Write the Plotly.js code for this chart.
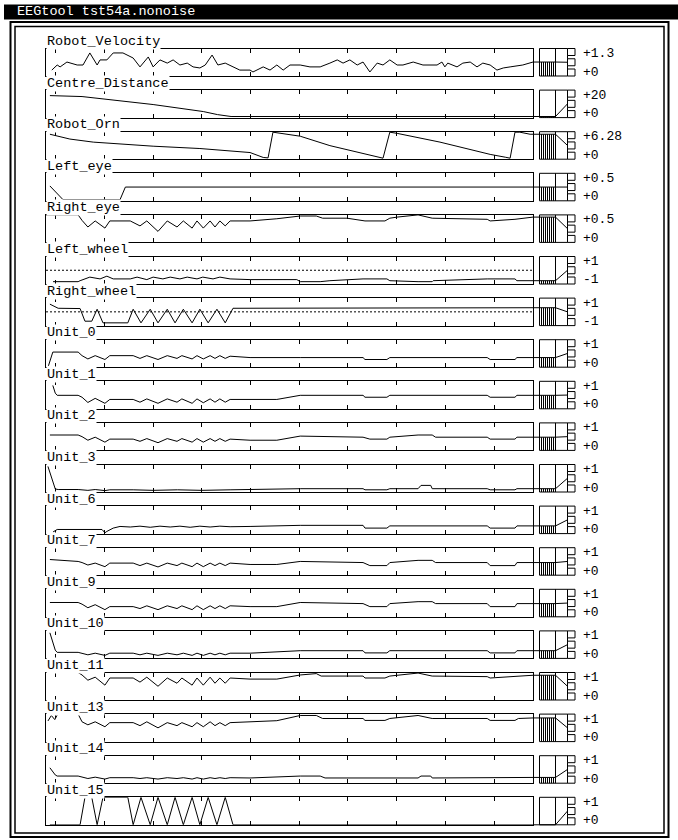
<!DOCTYPE html>
<html><head><meta charset="utf-8">
<script src="https://cdn.plot.ly/plotly-3.0.1.min.js"></script>
<style>html,body{margin:0;padding:0;background:#fff;}#chart{width:678px;height:840px;}</style>
</head><body><div id="chart"></div>
<script>
const windowTitle = 'EEGtool tst54a.nonoise';
const panelNames = ['Robot_Velocity','Centre_Distance','Robot_Orn','Left_eye','Right_eye','Left_wheel','Right_wheel',
  'Unit_0','Unit_1','Unit_2','Unit_3','Unit_6','Unit_7','Unit_9','Unit_10','Unit_11','Unit_13','Unit_14','Unit_15'];
const panelMin = [0,0,0,0,0,-1,-1,0,0,0,0,0,0,0,0,0,0,0,0];
const panelMax = [1.3,20,6.28,0.5,0.5,1,1,1,1,1,1,1,1,1,1,1,1,1,1];
const topLabels = ['+1.3','+20','+6.28','+0.5','+0.5','+1','+1','+1','+1','+1','+1','+1','+1','+1','+1','+1','+1','+1','+1'];
const bottomLabels = ['+0','+0','+0','+0','+0','-1','-1','+0','+0','+0','+0','+0','+0','+0','+0','+0','+0','+0','+0'];
const tickTimes = [0,10,20,30,40,50,60,70,80,90];
const dottedZeroPanels = ['Left_wheel','Right_wheel'];

// Robot_Velocity
const tRV = [-0.8,0.3,0.9,2.3,4.4,5.6,7,8.5,9.1,10.5,11.8,13.8,15.9,17.3,19,20,21.4,22.9,24.1,25.5,27,28.2,29.6,30.7,32.1,33.3,34.8,36.4,37.8,39.9,40.5,42.6,44,45.4,46.7,48.1,50.2,52.2,54.3,56.3,57.8,59,60.4,61.9,63.1,64.5,66,67.2,68.6,70.1,71.3,73.4,75.4,78.3,79.3,79.9,80.5,82.4,83.6,85.1,86.5,87.7,89.2,90.6,91.9,93.3,95.9,98];
const vRV = [0.28,0.52,0.43,0.66,0.52,0.52,1.09,0.52,0.76,0.76,1.09,1.09,0.85,0.43,0.9,0.43,0.76,0.61,0.76,0.52,0.61,0.43,0.38,0.52,0.99,0.52,0.61,0.43,0.28,0.28,0.19,0.43,0.28,0.52,0.28,0.52,0.52,0.43,0.43,0.61,0.76,0.61,0.76,0.52,0.66,0.19,0.61,0.52,0.76,0.52,0.52,0.66,0.52,0.52,0.66,0.43,0.61,0.43,0.61,0.66,0.43,0.61,0.52,0.28,0.38,0.43,0.52,0.66];
// Centre_Distance
const tCD = [-1.2,5.4,20,30.3,33.2,36,98];
const vCD = [16,15.3,9.5,4.4,2.2,0.8,0.8];
// Robot_Orn
const tRO = [-1.2,1.3,2.9,7.7,20,29.6,39.9,42.6,43.6,44.6,50.2,56.3,61.5,66.6,67.2,68.6,70.1,78.9,89.2,92.3,93.3,94.3,95.3,97.4,98];
const vRO = [5.7,5.0,4.6,3.9,2.97,2.44,1.52,0.4,0.3,6.17,5.25,3.1,1.8,0.46,0.23,6.17,5.9,3.9,1.1,0.46,0.23,6.17,6.17,5.7,5.7];
// Left_eye
const tLE = [-1.2,1.5,13.2,14.3,98];
const vLE = [0.27,0.02,0.02,0.25,0.25];
// Right_eye
const tRE = [-2,4.6,5.4,6.6,8.1,10.1,11.1,15.3,17.3,18.7,21,22.9,24.9,26.2,28,29,30.3,31.7,32.7,33.7,34.8,35.8,39.9,45.4,50.2,53.5,54.8,56.3,59.8,63.5,67.6,68.6,70.1,74.4,77.3,88.6,89.2,94.3,98];
const vRE = [0.5,0.5,0.4,0.28,0.39,0.26,0.39,0.39,0.3,0.39,0.2,0.39,0.28,0.39,0.26,0.39,0.26,0.39,0.28,0.39,0.3,0.39,0.39,0.43,0.48,0.48,0.44,0.44,0.44,0.39,0.39,0.44,0.46,0.5,0.44,0.42,0.39,0.42,0.46];
// Left_wheel
const tLW = [-0.55,4.6,5,7,9.1,10.5,11.8,15.3,16.7,18.7,20,22,23.5,25.5,27,29,30.2,32.3,33.7,35.8,39.9,49.5,50.2,54.3,56.3,63.1,68,68.6,74.4,77.3,77.5,88.6,94.3,94.7,98];
const vLW = [-0.83,-0.83,-0.76,-0.5,-0.63,-0.43,-0.63,-0.63,-0.5,-0.68,-0.5,-0.63,-0.5,-0.63,-0.5,-0.63,-0.5,-0.63,-0.5,-0.63,-0.68,-0.68,-0.83,-0.83,-0.76,-0.63,-0.63,-0.76,-0.83,-0.83,-0.76,-0.63,-0.63,-0.76,-0.76];
// Right_wheel (Unit_15 uses the same time base)
const tRW = [-1.2,0.5,5,6,7.4,8.5,9.7,14.8,15.9,17.5,19.4,21,22.9,24.5,26.2,28,29.6,31.3,33.1,34.8,36.4,98];
const vRW = [0.56,0.26,0.24,-0.68,-0.68,0.19,-0.8,-0.8,0.19,-0.8,0.19,-0.8,0.19,-0.8,0.19,-0.8,0.19,-0.8,0.19,-0.8,0.26,0.3];
// Unit_0
const tU0 = [-1.5,-0.6,4.6,5.4,6.6,8.1,10.1,11.1,15.9,17.3,18.7,21,22.9,24.9,25.9,28,29,30.3,31.7,32.7,33.7,34.8,35.8,39.9,50.2,63.1,63.5,68,68.6,88.6,89.2,94.3,94.7,98];
const vU0 = [0.05,0.55,0.55,0.42,0.3,0.42,0.28,0.42,0.42,0.32,0.42,0.28,0.42,0.32,0.42,0.3,0.42,0.3,0.42,0.32,0.42,0.32,0.4,0.35,0.35,0.35,0.28,0.28,0.35,0.35,0.28,0.28,0.35,0.35];
// Unit_1
const tU1 = [-0.6,-0.1,0.3,4.6,5.4,6.6,8.1,10.1,11.1,15.9,17.3,18.7,21,22.9,24.9,25.9,28,29,30.3,31.7,32.7,33.7,34.8,35.8,45.4,50.2,63.1,63.5,68,68.6,88.6,89.2,94.3,94.7,98];
const vU1 = [0.85,0.57,0.49,0.49,0.42,0.23,0.38,0.2,0.34,0.34,0.24,0.36,0.2,0.36,0.24,0.36,0.2,0.36,0.22,0.36,0.24,0.36,0.24,0.34,0.34,0.49,0.49,0.42,0.42,0.49,0.49,0.42,0.42,0.49,0.49];
// Unit_2, Unit_7, Unit_9 share one time base
const tMid = [-1.2,4.6,5.4,6.6,8.1,10.1,11.1,15.9,17.3,18.7,21,22.9,24.9,25.9,28,29,30.3,31.7,32.7,33.7,34.8,35.8,39.9,45.4,50.2,63.1,64.5,68,68.6,74.4,77.3,78,88.6,89.2,94.3,94.7,98];
const vU2 = [0.56,0.56,0.5,0.37,0.48,0.3,0.41,0.41,0.33,0.43,0.28,0.43,0.33,0.43,0.3,0.43,0.3,0.43,0.33,0.43,0.33,0.41,0.37,0.37,0.52,0.48,0.41,0.41,0.48,0.56,0.56,0.48,0.48,0.41,0.41,0.48,0.48];
const vU7 = [0.57,0.5,0.46,0.37,0.44,0.31,0.44,0.44,0.35,0.44,0.3,0.44,0.35,0.44,0.31,0.44,0.31,0.44,0.35,0.44,0.35,0.44,0.39,0.39,0.5,0.46,0.35,0.35,0.46,0.54,0.54,0.46,0.46,0.35,0.35,0.46,0.46];
const vU9 = [0.52,0.52,0.46,0.33,0.44,0.26,0.37,0.37,0.3,0.4,0.26,0.4,0.3,0.4,0.26,0.4,0.26,0.4,0.3,0.4,0.3,0.4,0.37,0.37,0.52,0.48,0.37,0.37,0.48,0.55,0.55,0.48,0.48,0.37,0.37,0.48,0.48];
// Unit_3
const tU3 = [-1.6,-0.1,0.5,4.6,6.6,8.1,10.1,11.1,15.9,20,25,30,35.8,50.2,63.1,63.5,68,68.6,74.4,75,77,77.3,88.6,89.2,94.3,94.7,98];
const vU3 = [0.93,0.11,0.09,0.09,0.06,0.09,0.05,0.08,0.08,0.06,0.08,0.06,0.08,0.12,0.12,0.08,0.08,0.12,0.12,0.24,0.24,0.12,0.12,0.08,0.08,0.12,0.12];
// Unit_6
const tU6 = [-0.55,0.3,9.5,10.1,10.5,11.8,13.2,15.3,17.3,19.4,21.4,23.5,25.5,27.6,29.6,31.7,33.7,35.8,39.9,50.2,63.1,63.5,68,68.6,88.6,89.2,94.3,94.7,98];
const vU6 = [0.06,0.15,0.15,0.03,0.08,0.2,0.26,0.24,0.27,0.23,0.27,0.24,0.27,0.23,0.27,0.24,0.27,0.25,0.26,0.3,0.3,0.2,0.2,0.28,0.28,0.2,0.2,0.28,0.28];
// Unit_10
const tU10 = [-1.2,-0.1,0.3,4.6,6.6,8.1,10.1,11.1,15.9,17.3,18.7,21,22.9,24.9,26.2,28,29,30.3,31.7,32.7,33.7,34.8,35.8,39.9,50.2,63.1,63.5,68,68.6,88.6,89.2,94.3,94.7,98];
const vU10 = [0.93,0.3,0.22,0.22,0.13,0.19,0.11,0.19,0.19,0.13,0.19,0.11,0.19,0.13,0.19,0.11,0.19,0.11,0.19,0.13,0.19,0.13,0.19,0.19,0.28,0.28,0.2,0.2,0.28,0.28,0.2,0.2,0.28,0.28];
// Unit_11
const tU11 = [-2,4.6,5.4,6.6,8.1,10.1,11.1,15.9,17.3,18.7,21,22.9,24.9,25.9,28,29,30.3,31.7,32.7,33.7,34.8,35.8,39.9,45.4,50.2,53.5,54.5,56.3,63.1,63.5,67.6,68.6,70.1,74.4,77.3,88.6,89.2,94.3,98];
const vU11 = [1,1,0.91,0.72,0.83,0.54,0.8,0.8,0.65,0.83,0.5,0.8,0.61,0.8,0.54,0.8,0.54,0.83,0.61,0.8,0.61,0.8,0.76,0.76,0.91,0.96,0.87,0.87,0.87,0.8,0.8,0.87,0.9,0.98,0.87,0.85,0.8,0.85,0.9];
// Unit_13
const tU13 = [-1.6,-0.9,-0.2,0.4,4.6,5.4,6.6,8.1,10.1,11.1,15.9,17.3,18.7,21,22.9,24.9,25.9,28,29,30.3,31.7,32.7,33.7,34.8,35.8,39.9,45.4,50.2,53.5,54.8,63.1,63.5,67.6,68.6,74.4,77.3,88.6,89.2,94.3,95,98];
const vU13 = [0.75,0.95,0.8,1,1,0.72,0.61,0.72,0.54,0.69,0.69,0.58,0.72,0.5,0.69,0.58,0.69,0.54,0.69,0.54,0.72,0.58,0.69,0.58,0.69,0.72,0.76,0.95,0.95,0.84,0.84,0.77,0.77,0.84,0.95,0.84,0.84,0.77,0.77,0.84,0.86];
// Unit_14
const tU14 = [-1.2,-0.1,0.3,4.6,6.6,8.1,10.1,11.1,15.9,17.3,18.7,21,22.9,24.9,26.2,28,29,30.3,31.7,32.7,33.7,34.8,35.8,39.9,50.2,54.3,55.3,74.4,75,77,77.3,98];
const vU14 = [0.56,0.3,0.26,0.26,0.17,0.22,0.15,0.2,0.2,0.17,0.2,0.15,0.2,0.17,0.2,0.15,0.2,0.15,0.2,0.17,0.2,0.17,0.2,0.19,0.26,0.26,0.19,0.19,0.26,0.26,0.19,0.21];
// Unit_15
const vU15 = [0,0,0,1,1,0,1,1,0,1,0,1,0,1,0,1,0,1,0,1,0,0];

const seriesT = [tRV,tCD,tRO,tLE,tRE,tLW,tRW,tU0,tU1,tMid,tU3,tU6,tMid,tMid,tU10,tU11,tU13,tU14,tRW];
const seriesV = [vRV,vCD,vRO,vLE,vRE,vLW,vRW,vU0,vU1,vU2,vU3,vU6,vU7,vU9,vU10,vU11,vU13,vU14,vU15];

// ---- geometry (pixels) ----
const W = 678, H = 840;
const plotL = 46, plotR = 533, top0 = 48.5, pitch = 41.6, boxH = 27.5;
const px = x => x / W, py = y => 1 - y / H;
const FONT = 'Liberation Mono, DejaVu Sans Mono, monospace';

const data = [], shapes = [], annotations = [];
const layout = {width: W, height: H, margin: {l:0,r:0,t:0,b:0}, paper_bgcolor:'#fff', plot_bgcolor:'rgba(0,0,0,0)', showlegend:false};

panelNames.forEach((name, i) => {
  const k = i === 0 ? '' : String(i + 1);
  const T = top0 + i * pitch, B = T + boxH, M = (T + B) / 2;
  layout['xaxis' + k] = {domain:[px(plotL), px(plotR)], range:[-2, 98], anchor:'y' + k,
    showgrid:false, zeroline:false, showline:true, linecolor:'#000', linewidth:1, mirror:'ticks',
    ticks:'inside', ticklen:4, tickwidth:1, tickcolor:'#000', tickmode:'array', tickvals:tickTimes,
    showticklabels:false, fixedrange:true};
  layout['yaxis' + k] = {domain:[py(B), py(T)], range:[panelMin[i], panelMax[i]], anchor:'x' + k,
    showgrid:false, zeroline:false, showline:true, linecolor:'#000', linewidth:1, mirror:true,
    ticks:'', showticklabels:false, fixedrange:true};
  data.push({type:'scatter', mode:'lines', x: seriesT[i], y: seriesV[i], xaxis:'x' + k, yaxis:'y' + k,
    line:{color:'#000', width:1}, hoverinfo:'skip'});
  if (dottedZeroPanels.includes(name)) {
    shapes.push({type:'line', xref:'x' + k, yref:'y' + k, x0:-2, x1:98, y0:0, y1:0,
      line:{color:'#000', width:1, dash:'2px,2px'}});
  }
  annotations.push({text:name, xref:'paper', yref:'paper', x:px(plotL - 0.5), y:py(T + 1.5),
    xanchor:'left', yanchor:'bottom', showarrow:false, bgcolor:'#fff', borderpad:0,
    font:{family:FONT, size:13.5, color:'#000'}});
  annotations.push({text:topLabels[i], xref:'paper', yref:'paper', x:px(581), y:py(T + 5),
    xanchor:'left', yanchor:'middle', showarrow:false, font:{family:FONT, size:13, color:'#000'}});
  annotations.push({text:bottomLabels[i], xref:'paper', yref:'paper', x:px(581), y:py(B - 4),
    xanchor:'left', yanchor:'middle', showarrow:false, font:{family:FONT, size:13, color:'#000'}});
  // level indicator widget driven by the last value of the series
  const v = seriesV[i][seriesV[i].length - 1];
  const L = B - (v - panelMin[i]) / (panelMax[i] - panelMin[i]) * boxH;
  const ln = {color:'#000', width:1};
  shapes.push({type:'rect', xref:'paper', yref:'paper', x0:px(539.5), x1:px(567.5), y0:py(B), y1:py(T), line:ln});
  shapes.push({type:'line', xref:'paper', yref:'paper', x0:px(555.5), x1:px(555.5), y0:py(B), y1:py(T), line:ln});
  for (let hx = 541.5; hx <= 554; hx += 2) {
    if (B - L > 0.8) shapes.push({type:'line', xref:'paper', yref:'paper', x0:px(hx), x1:px(hx), y0:py(B), y1:py(L), line:ln});
  }
  shapes.push({type:'line', xref:'paper', yref:'paper', x0:px(plotR), x1:px(555.5), y0:py(L), y1:py(L), line:ln});
  shapes.push({type:'line', xref:'paper', yref:'paper', x0:px(555.5), x1:px(567.5), y0:py(L), y1:py(M), line:ln});
  [[T, T + 7], [M - 3.5, M + 3.5], [B - 7, B]].forEach(([a, b]) => {
    shapes.push({type:'rect', xref:'paper', yref:'paper', x0:px(567.5), x1:px(575), y0:py(b), y1:py(a), line:ln, fillcolor:'#fff'});
  });
});

// window chrome
shapes.push({type:'rect', xref:'paper', yref:'paper', x0:px(4), x1:1, y0:py(19.5), y1:py(4.5), fillcolor:'#000', line:{width:0}, layer:'below'});
shapes.push({type:'rect', xref:'paper', yref:'paper', x0:px(10.5), x1:px(668.5), y0:py(837), y1:py(22), line:{color:'#000', width:2}});
shapes.push({type:'rect', xref:'paper', yref:'paper', x0:px(15), x1:px(664), y0:py(833), y1:py(26.5), line:{color:'#000', width:1.5}});
annotations.push({text:windowTitle, xref:'paper', yref:'paper', x:px(15), y:py(12), xanchor:'left', yanchor:'middle',
  showarrow:false, font:{family:FONT, size:13.5, color:'#fff'}});

layout.shapes = shapes;
layout.annotations = annotations;
Plotly.newPlot('chart', data, layout, {displayModeBar:false, staticPlot:true});
</script>
</body></html>
